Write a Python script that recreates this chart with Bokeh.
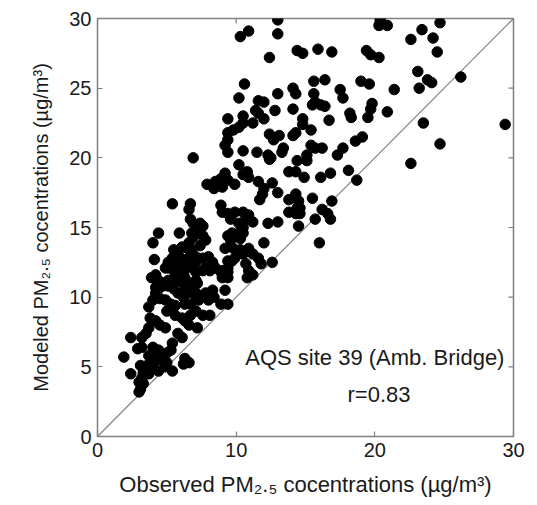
import math
from bokeh.plotting import figure
from bokeh.models import Range1d, Label, FixedTicker
from bokeh.embed import file_html
from bokeh.resources import INLINE

# ---- data ----
points = [
    # upper right group
    (20.4,29.9),(20.3,29.5),(20.9,29.5),(23.4,29.2),(24.7,29.7),(22.6,28.5),(24.2,28.6),(24.5,27.6),
    (19.4,27.7),(19.7,27.4),(20.3,27.2),(15.9,27.8),(16.9,27.6),(14.8,27.5),(14.4,27.7),(23.1,26.2),
    (23.8,25.6),(24.1,25.4),(26.2,25.8),(23.2,25.0),(21.4,24.9),(19.0,25.5),(19.6,25.3),(15.6,25.5),
    (16.4,25.6),(17.5,24.9),(17.7,24.3),(15.6,24.6),(15.7,24.0),(15.5,23.8),(16.1,23.8),(16.4,23.7),
    (19.8,23.9),(19.7,23.5),(20.9,23.3),(18.2,23.2),(18.3,22.9),(19.5,22.9),(14.8,22.8),(14.8,22.4),
    (16.7,22.7),(15.4,22.0),(23.5,22.5),(29.4,22.4),(18.6,21.2),(19.1,21.5),(15.4,20.9),(15.7,20.7),
    (16.2,20.7),(17.3,20.2),(17.7,20.7),(15.1,20.2),(15.1,19.8),(24.7,21.0),(22.6,19.6),(18.1,19.1),
    (16.8,18.9),(14.9,18.6),(16.1,18.6),(18.7,18.4),(15.5,17.1),(16.9,16.9),(16.2,16.3),(16.6,16.0),
    (15.7,15.6),(14.6,16.4),(14.6,16.0),(16.8,15.6),(16.0,13.9),
    # middle
    (13.0,24.6),(12.8,23.4),(14.1,25.0),(14.3,24.6),(14.1,23.5),(12.4,21.7),(13.1,21.6),(12.7,21.3),
    (14.1,21.6),(14.3,21.8),(13.4,20.7),(13.3,20.4),(14.4,19.8),(12.5,20.0),(10.3,28.7),(10.9,29.1),
    (13.0,29.9),(13.0,28.9),(12.4,27.2),(10.6,25.3),(10.2,24.3),(11.6,24.1),(12.0,24.0),(11.4,23.4),
    (11.6,23.2),(9.4,22.8),(10.5,23.0),(10.5,22.5),(10.2,22.2),(9.8,22.0),(11.2,22.5),(12.0,22.8),
    (9.4,21.8),(9.4,21.3),(9.2,20.9),(9.4,20.4),(10.5,20.5),(11.5,20.4),(12.3,20.2),(12.4,19.9),
    (6.9,20.0),(10.2,19.5),(10.8,19.0),(10.9,18.6),(10.5,18.8),(9.2,18.9),(8.9,18.5),(9.0,18.2),
    (8.5,18.3),(7.9,18.1),(8.4,17.8),(9.9,18.1),(11.6,18.3),(12.6,18.2),(13.8,19.0),(14.3,19.0),
    (12.0,17.8),(11.9,17.4),(11.7,17.0),(13.0,17.5),(14.3,17.4),(14.5,16.9),(14.4,16.4),(13.8,17.0),
    (5.4,16.7),(6.7,16.7),(6.6,16.3),(8.9,16.6),(9.0,16.1),(9.4,16.0),(9.9,16.1),(10.5,16.1),
    (10.9,15.9),(13.8,16.1),(14.3,16.0),(10.7,15.6),(11.2,15.4),(10.2,15.3),(9.7,14.6),(9.4,14.4),
    (12.3,15.3),(13.0,15.4),(14.5,15.1),(6.7,15.6),(6.9,15.3),(7.6,15.1),(7.1,14.8),(7.4,14.6),
    (6.8,14.6),(7.6,14.4),(5.9,14.6),(4.4,14.6),(4.0,13.9),(4.1,12.7),(3.9,11.4),(12.0,13.9),
    (12.6,12.5),(10.9,13.5),(11.2,13.1),(11.6,12.8),(11.8,12.4),(10.9,11.9),(11.2,11.6),(10.8,11.4),
    (9.8,13.5),(9.7,12.6),(9.4,12.1),(9.4,11.8),(9.4,11.4),(9.0,11.4),(8.9,11.8),(8.0,12.9),
    (8.3,12.5),(8.1,11.9),(8.5,12.1),(7.6,11.9),(7.1,11.8),(7.1,11.2),(7.2,11.0),(5.1,12.1),
    (5.6,11.7),(6.2,12.3),(6.5,12.6),(6.0,12.8),(5.8,12.4),(6.8,13.4),(7.1,12.9),(6.5,13.5),
    (6.1,13.6),(6.6,13.9),(7.4,15.3),(6.9,14.3),(7.8,14.1),(7.4,13.7),(6.7,13.0),(7.6,12.8),
    (7.1,12.5),(5.6,12.4),(6.2,11.8),(6.8,12.1),(7.8,12.1),(9.0,11.9),(5.1,11.2),(4.7,10.8),
    (4.4,10.6),(7.1,10.3),(7.8,10.3),(9.2,10.5),(9.4,12.6),(9.2,13.5),(9.9,12.8),(9.6,15.6),
    (10.5,15.0),(10.2,14.6),(9.6,14.1),(9.4,18.4),(9.0,17.9),(10.5,14.6),(10.3,14.2),(10.3,13.4),
    (10.5,13.1),(10.7,12.4),
    # lower
    (8.3,10.5),(8.4,10.0),(8.9,9.5),(9.4,9.5),(8.0,9.8),(7.6,8.7),(8.1,8.7),(7.1,10.1),
    (7.3,9.8),(7.1,9.0),(6.7,8.7),(7.2,7.8),(5.8,7.4),(6.1,7.1),(5.4,6.7),(5.3,6.2),
    (6.3,5.6),(6.6,5.3),(6.2,5.2),(5.4,4.7),(2.4,7.1),(3.2,7.1),(3.5,7.4),(1.9,5.7),
    (2.4,4.5),(3.1,5.1),(3.0,3.9),(3.1,3.4),(3.0,3.2),(3.7,4.5),(3.8,5.0),(4.0,5.2),
    (4.4,5.5),(4.7,5.7),(3.2,6.4),(2.9,6.3),(4.0,6.4),(4.4,6.2),(5.0,6.0),(4.8,5.7),
    (3.7,7.8),(3.8,8.5),(4.2,8.3),(4.5,8.0),(4.9,7.8),(3.7,9.3),(4.0,9.8),(4.2,10.3),
    (4.5,9.9),(4.9,9.8),(5.3,9.5),(5.6,9.4),(5.0,9.0),(5.6,8.7),(6.1,8.5),(6.3,8.3),
    (6.6,8.0),(4.2,10.7),(4.7,11.0),(5.1,10.8),(5.5,10.6),(5.8,10.3),(6.2,10.0),(6.3,9.5),
    (6.7,9.5),(5.8,11.2),(6.2,11.0),(5.6,11.4),(4.4,11.2),(4.2,11.6),(5.5,13.4),(5.1,12.5),
    (4.9,12.1),(5.4,12.8),(5.8,13.1),(6.1,12.1),(5.6,12.1),(6.3,11.4),(6.7,11.0),(6.3,10.5),
    (6.8,10.3),(3.7,5.8),(4.2,6.0),(4.4,5.7),(4.8,5.6),(4.0,5.3),(3.7,5.2),(3.5,4.9),
    (3.3,4.6),(3.2,4.2),(3.3,3.8),(5.0,5.3),(4.9,5.0),(4.4,4.7),
]
observed = [pt[0] for pt in points]
modeled = [pt[1] for pt in points]

axis_limits = [0, 30]
x_ticks = [0, 10, 20, 30]
y_ticks = [0, 5, 10, 15, 20, 25, 30]
site_text = "AQS site 39 (Amb. Bridge)"
r_text = "r=0.83"
x_label = "Observed PM\u2082.\u2085 cocentrations (\u00b5g/m\u00b3)"
y_label = "Modeled PM\u2082.\u2085 cocentrations (\u00b5g/m\u00b3)"

FONT = "Liberation Sans"
GRAY = "#808080"
TXT = "#1a1a1a"

p = figure(width=537, height=505, frame_width=416, frame_height=418,
           x_range=Range1d(*axis_limits), y_range=Range1d(*axis_limits),
           output_backend="svg", toolbar_location=None,
           min_border_left=97, min_border_right=24, min_border_top=18, min_border_bottom=69)
p.xgrid.visible = False
p.ygrid.visible = False
p.outline_line_color = GRAY
p.outline_line_width = 1.5
p.background_fill_color = "white"
p.border_fill_color = "white"

def style(ax, ticks, label, size):
    ax.ticker = FixedTicker(ticks=ticks)
    ax.major_tick_in = 5
    ax.major_tick_out = 0
    ax.minor_tick_line_color = None
    ax.major_tick_line_color = GRAY
    ax.major_tick_line_width = 1.2
    ax.axis_line_color = None
    ax.major_label_text_font = FONT
    ax.major_label_text_font_size = "20px"
    ax.major_label_text_color = TXT
    ax.major_label_standoff = 6
    ax.axis_label = label
    ax.axis_label_text_font = FONT
    ax.axis_label_text_font_size = size
    ax.axis_label_text_font_style = "normal"
    ax.axis_label_text_color = TXT

style(p.xaxis[0], x_ticks, x_label, "22px")
style(p.yaxis[0], y_ticks, y_label, "20px")
p.xaxis[0].axis_label_standoff = 12
p.yaxis[0].axis_label_standoff = 14

# mirrored inward ticks on the top and right edges
top_y = [axis_limits[1]] * len(x_ticks)
right_x = [axis_limits[1]] * len(y_ticks)
p.ray(x=x_ticks, y=top_y, length=5, length_units="screen", angle=-math.pi / 2,
      line_color=GRAY, line_width=1.2)
p.ray(x=right_x, y=y_ticks, length=5, length_units="screen", angle=math.pi,
      line_color=GRAY, line_width=1.2)

p.line(x=axis_limits, y=axis_limits, line_color=GRAY, line_width=1.2)
p.scatter(observed, modeled, size=10.5, fill_color="black", line_color="black")

p.add_layout(Label(x=20.0, y=5.7, text=site_text, text_align="center", text_baseline="middle",
                   text_font=FONT, text_font_size="22px", text_color=TXT))
p.add_layout(Label(x=20.3, y=3.0, text=r_text, text_align="center", text_baseline="middle",
                   text_font=FONT, text_font_size="22px", text_color=TXT))

open("out.html", "w").write(file_html(p, INLINE))
